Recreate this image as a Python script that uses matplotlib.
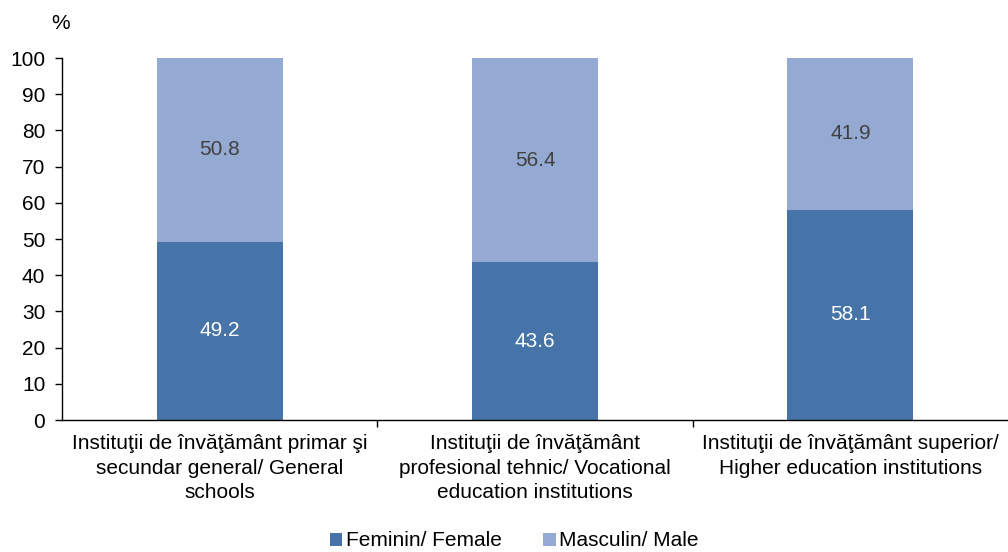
import numpy as np
import matplotlib
matplotlib.use("Agg")
import matplotlib.pyplot as plt

plt.rcParams["font.family"] = ["Liberation Sans", "DejaVu Sans"]

categories = [
    "Instituţii de învăţământ primar şi\nsecundar general/ General\nschools",
    "Instituţii de învăţământ\nprofesional tehnic/ Vocational\neducation institutions",
    "Instituţii de învăţământ superior/\nHigher education institutions",
]
female = [49.2, 43.6, 58.1]
male = [50.8, 56.4, 41.9]
c_female = "#4674a8"
c_male = "#95aad2"
fs = 15

fig = plt.figure(figsize=(10.08, 5.52), dpi=100)
ax = fig.add_axes([0.0615, 0.2391, 0.9385, 0.6558])
x = np.arange(len(categories))
b1 = ax.bar(x, female, width=0.4, color=c_female, label="Feminin/ Female")
b2 = ax.bar(x, male, width=0.4, bottom=female, color=c_male, label="Masculin/ Male")

for xi, f, m in zip(x, female, male):
    ax.text(xi, f / 2, f"{f:.1f}", ha="center", va="center", color="white", fontsize=fs)
    ax.text(xi, f + m / 2, f"{m:.1f}", ha="center", va="center", color="#404040", fontsize=fs)

ax.set_xlim(-0.5, 2.5)
ax.set_ylim(0, 100)
ax.set_yticks(range(0, 101, 10))
ax.tick_params(axis="y", labelsize=fs, length=5, width=1, color="black", pad=7)
ax.set_xticks([0.5, 1.5], minor=False)
ax.set_xticklabels(["", ""])
ax.tick_params(axis="x", length=5, width=1)
ax.set_xticks(x, minor=True)
ax.set_xticklabels(categories, minor=True, fontsize=fs, linespacing=1.38)
ax.tick_params(axis="x", which="minor", length=0, pad=10)
for s in ["top", "right"]:
    ax.spines[s].set_visible(False)
ax.spines["left"].set_linewidth(1)
ax.spines["bottom"].set_linewidth(1)
ax.text(-0.001, 1.095, "%", transform=ax.transAxes, ha="center", va="center", fontsize=fs)

fig.legend(handles=[b1, b2], loc="center", bbox_to_anchor=(0.51, 0.02), ncol=2, frameon=False,
           fontsize=fs, handlelength=0.6, handleheight=0.6, handletextpad=0.15, columnspacing=2.0)

fig.savefig("out.png", dpi=100)
